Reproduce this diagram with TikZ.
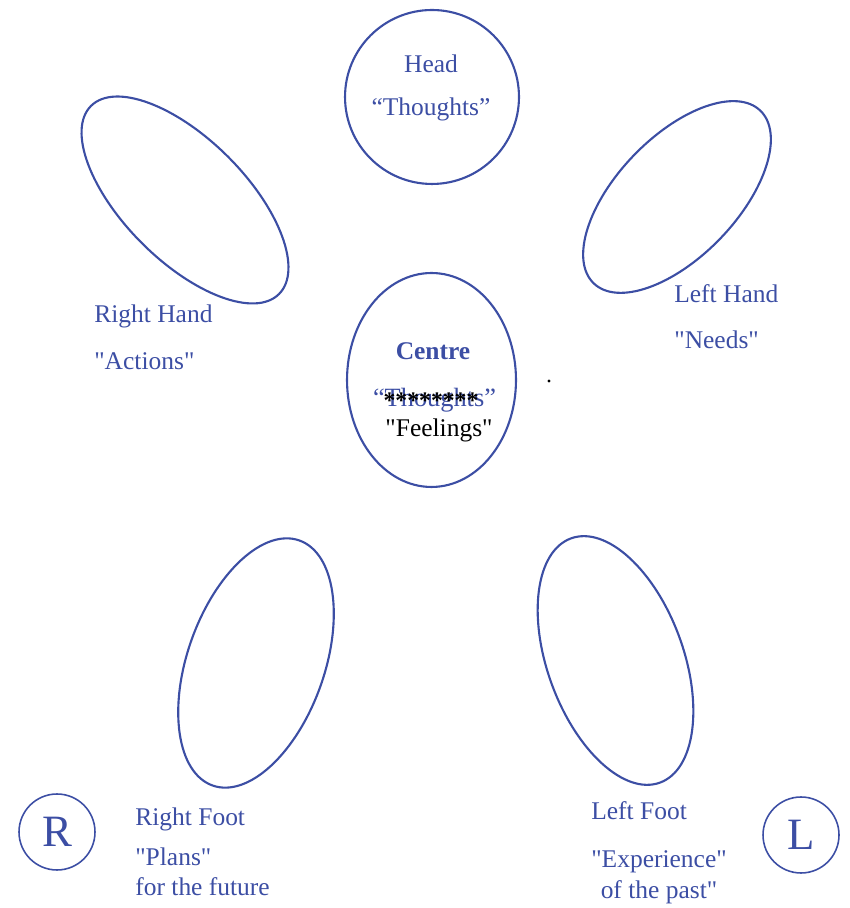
\documentclass[tikz,border=0pt]{standalone}
\usepackage{fontspec}
\setmainfont{Liberation Serif}[Ligatures=TeXOff]
\usepackage{tikz}
\usetikzlibrary{shapes.geometric}
\usepackage{xcolor}
\definecolor{inkblue}{HTML}{3C4EA4}

\begin{document}
\begin{tikzpicture}[
  x=0.02cm, y=0.02cm,
  font=\fontsize{14.5}{17.6}\selectfont,
  limb/.style={ellipse,draw=inkblue,line width=1.2pt,inner sep=0pt},
  tag/.style={circle,draw=inkblue,line width=0.9pt,inner sep=0pt,minimum size=1.52cm,
    text=inkblue,font=\fontsize{25.5}{30}\selectfont},
  word/.style={text=inkblue,inner sep=0pt,anchor=base west},
]
  \useasboundingbox (0,0) rectangle (849,908);
  % ---------------- head ----------------
  \node[limb,minimum width=3.48cm,minimum height=3.48cm] (head) at (432,811) {};
  \node[word,anchor=base] (headname) at (431,835) {Head};
  \node[word,anchor=base] (headword) at (431,792) {“Thoughts”};
  % ---------------- hands ----------------
  \node[limb,minimum width=5.32cm,minimum height=2.44cm,rotate=-45] (rhand) at (185,708) {};
  \node[word] (rhandname) at (94,585) {Right Hand};
  \node[word] (rhandword) at (94,538) {"Actions"};
  \node[limb,minimum width=4.8cm,minimum height=2.4cm,rotate=46] (lhand) at (677,711) {};
  \node[word] (lhandname) at (674,605) {Left Hand};
  \node[word] (lhandword) at (674,559) {"Needs"};
  % ---------------- centre ----------------
  \node[limb,minimum width=3.38cm,minimum height=4.28cm] (centre) at (431.5,528) {};
  \node[word,anchor=base,font=\fontsize{14.5}{17.6}\selectfont\bfseries] (centrename) at (433,548) {Centre};
  \node[word,anchor=base,font=\fontsize{15}{18}\selectfont] (centreword) at (434.5,501) {“Thoughts”};
  % the asterisks are typed over the blue word, as in the scan
  \node[anchor=base,inner sep=0pt,font=\fontsize{13.5}{15}\selectfont\bfseries] (stars) at (431,499) {********};
  \node[anchor=base,inner sep=0pt] (feelings) at (439,471) {"Feelings"};
  \fill (549,527) circle (1.6);
  % ---------------- feet ----------------
  \node[limb,minimum width=2.74cm,minimum height=5.2cm,rotate=-19.5] (rfoot) at (256,245) {};
  \node[word] (rfootname) at (135,82) {Right Foot};
  \node[word,align=left] (rfootword) at (135,12) {"Plans"\\for the future};
  \node[limb,minimum width=2.72cm,minimum height=5.2cm,rotate=20] (lfoot) at (615.5,247.5) {};
  \node[word] (lfootname) at (591,88) {Left Foot};
  \node[word,anchor=base,align=center] (lfootword) at (659,10) {"Experience"\\of the past"};
  % ---------------- sides ----------------
  \node[tag] (rmark) at (57,76) {R};
  \node[tag] (lmark) at (801,73) {L};
\end{tikzpicture}
\end{document}
